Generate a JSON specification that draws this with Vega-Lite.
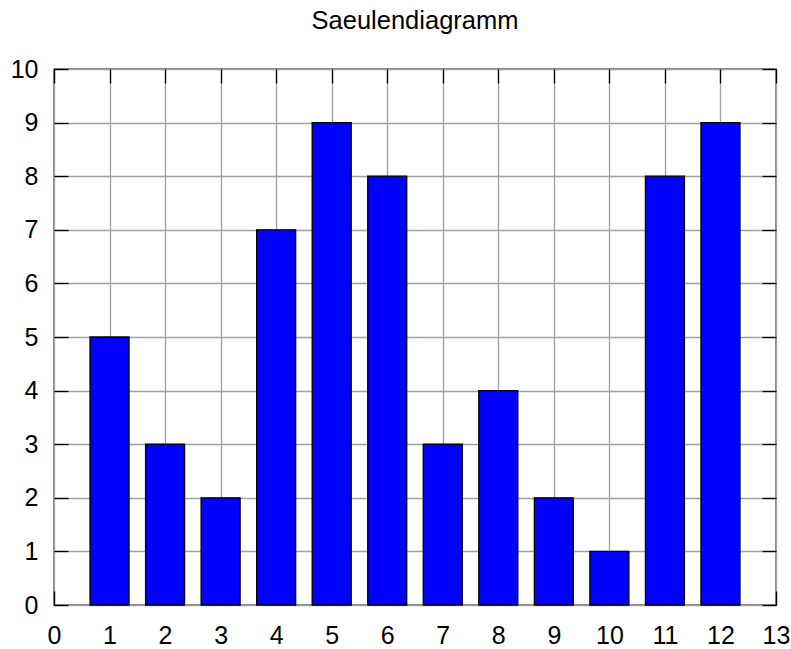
{
  "$schema": "https://vega.github.io/schema/vega-lite/v6.json",
  "autosize": "none",
  "width": 722,
  "height": 536,
  "padding": {"left": 54, "top": 69, "right": 15, "bottom": 44},
  "background": "white",
  "title": {"text": "Saeulendiagramm", "font": "Liberation Sans", "fontSize": 25.5, "fontWeight": "normal", "color": "#000000", "anchor": "middle", "offset": 23},
  "config": {
    "view": {"stroke": "#000000", "strokeWidth": 1.3},
    "axis": {
      "domain": false,
      "labelFont": "Liberation Sans",
      "labelFontSize": 25,
      "labelColor": "#000000",
      "tickColor": "#000000",
      "tickWidth": 1.3,
      "tickSize": -14,
      "gridColor": "#a0a0a0",
      "gridWidth": 1.3,
      "gridOpacity": 1,
      "title": null
    }
  },
  "data": {"values": [
    {"x": 1, "y": 5}, {"x": 2, "y": 3}, {"x": 3, "y": 2}, {"x": 4, "y": 7},
    {"x": 5, "y": 9}, {"x": 6, "y": 8}, {"x": 7, "y": 3}, {"x": 8, "y": 4},
    {"x": 9, "y": 2}, {"x": 10, "y": 1}, {"x": 11, "y": 8}, {"x": 12, "y": 9}
  ]},
  "layer": [
    {
      "mark": {"type": "bar", "width": 39, "fill": "#0000ff", "stroke": "#000000", "strokeWidth": 1.3},
      "encoding": {
        "x": {"field": "x", "type": "quantitative", "scale": {"domain": [0, 13], "nice": false, "zero": false, "padding": 0},
              "axis": {"orient": "bottom", "values": [0,1,2,3,4,5,6,7,8,9,10,11,12,13], "labelPadding": 32, "labelFlush": false, "grid": true}},
        "y": {"field": "y", "type": "quantitative", "scale": {"domain": [0, 10], "nice": false, "padding": 0},
              "axis": {"orient": "left", "values": [0,1,2,3,4,5,6,7,8,9,10], "labelPadding": 30, "labelFlush": false, "grid": true}}
      }
    },
    {
      "mark": {"type": "point", "opacity": 0},
      "encoding": {
        "x": {"field": "x", "type": "quantitative", "scale": {"domain": [0, 13], "nice": false, "zero": false, "padding": 0},
              "axis": {"orient": "top", "values": [0,1,2,3,4,5,6,7,8,9,10,11,12,13], "labels": false, "grid": false}},
        "y": {"field": "y", "type": "quantitative", "scale": {"domain": [0, 10], "nice": false, "padding": 0},
              "axis": {"orient": "right", "values": [0,1,2,3,4,5,6,7,8,9,10], "labels": false, "grid": false}}
      }
    }
  ],
  "resolve": {"axis": {"x": "independent", "y": "independent"}}
}
